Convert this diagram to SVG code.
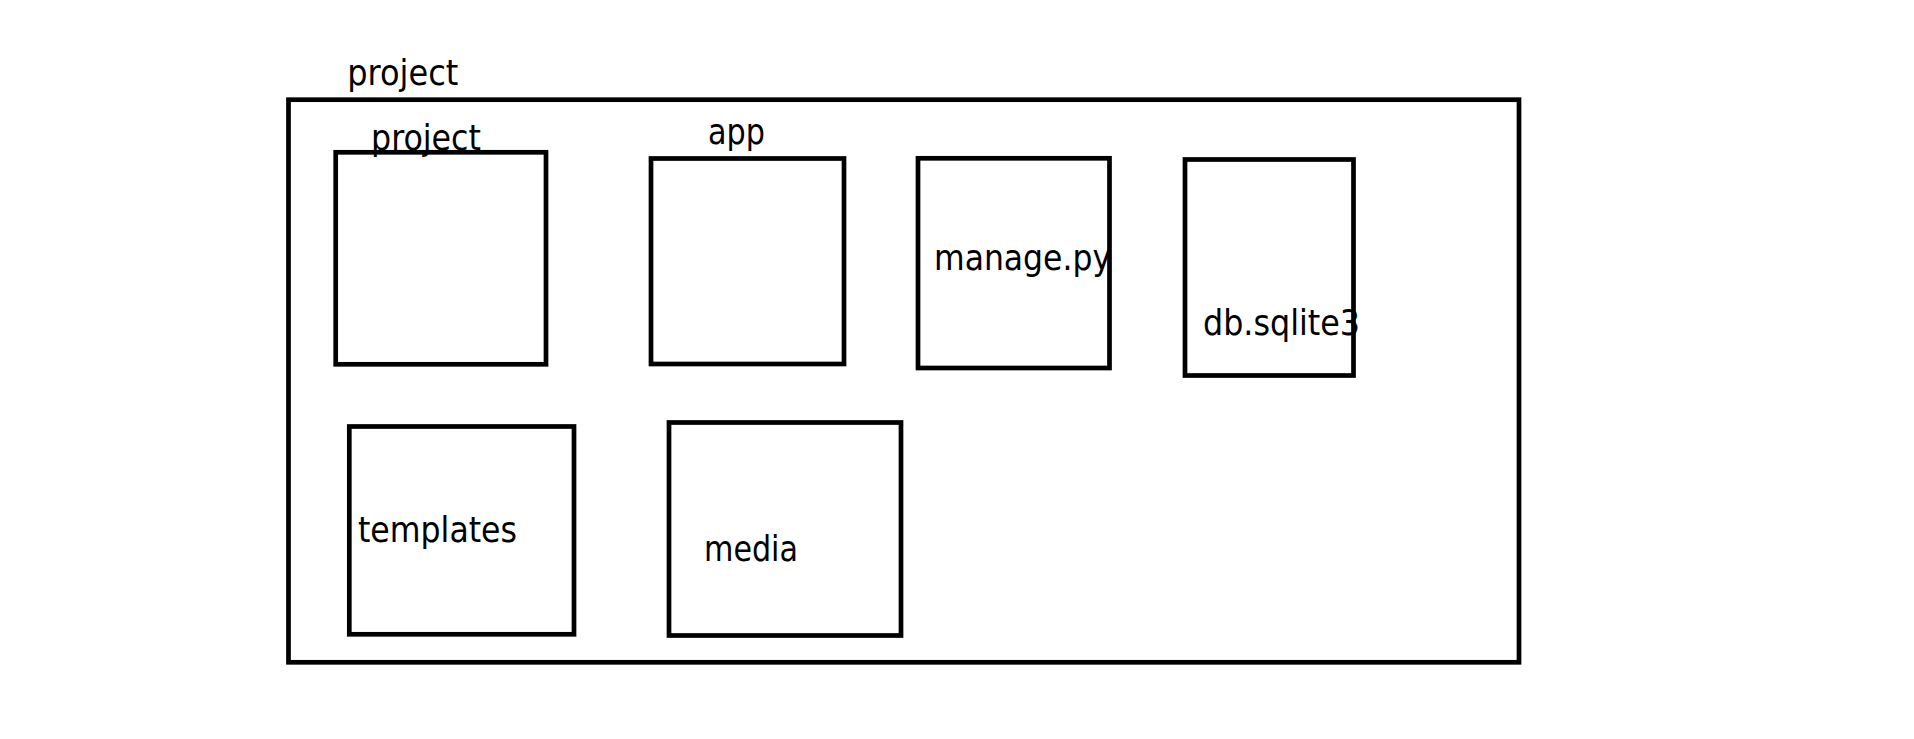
<svg xmlns="http://www.w3.org/2000/svg" width="1914" height="739" viewBox="0 0 1914 739">
<style>
.box{fill:none;stroke:#000;stroke-width:4.7}
.lbl{font-family:"DejaVu Sans Condensed","DejaVu Sans",sans-serif;font-stretch:condensed;font-size:35px;fill:#000}
</style>
<rect x="0" y="0" width="1914" height="739" fill="#fff"/>
<g id="project-root">
<rect class="box" x="288.5" y="99.7" width="1230.5" height="562.6"/>
<text class="lbl" x="347.3" y="85" textLength="111" lengthAdjust="spacingAndGlyphs">project</text>
</g>
<g id="project-pkg">
<rect class="box" x="335.7" y="152.3" width="210.3" height="212"/>
<text class="lbl" x="371" y="149.5" textLength="110" lengthAdjust="spacingAndGlyphs">project</text>
</g>
<g id="app">
<rect class="box" x="651" y="158.5" width="193" height="205.5"/>
<text class="lbl" x="708" y="144" textLength="57" lengthAdjust="spacingAndGlyphs">app</text>
</g>
<g id="manage">
<rect class="box" x="918" y="158.3" width="191.5" height="209.7"/>
<text class="lbl" x="934" y="270" textLength="177" lengthAdjust="spacingAndGlyphs">manage.py</text>
</g>
<g id="db">
<rect class="box" x="1185" y="159.5" width="168.5" height="216"/>
<text class="lbl" x="1203" y="335" textLength="157" lengthAdjust="spacingAndGlyphs">db.sqlite3</text>
</g>
<g id="templates">
<rect class="box" x="349.3" y="426.5" width="224.7" height="207.8"/>
<text class="lbl" x="358" y="542" textLength="159" lengthAdjust="spacingAndGlyphs">templates</text>
</g>
<g id="media">
<rect class="box" x="669" y="422.5" width="232" height="213"/>
<text class="lbl" x="704" y="561" textLength="94" lengthAdjust="spacingAndGlyphs">media</text>
</g>
<g id="connectors"></g>
</svg>
